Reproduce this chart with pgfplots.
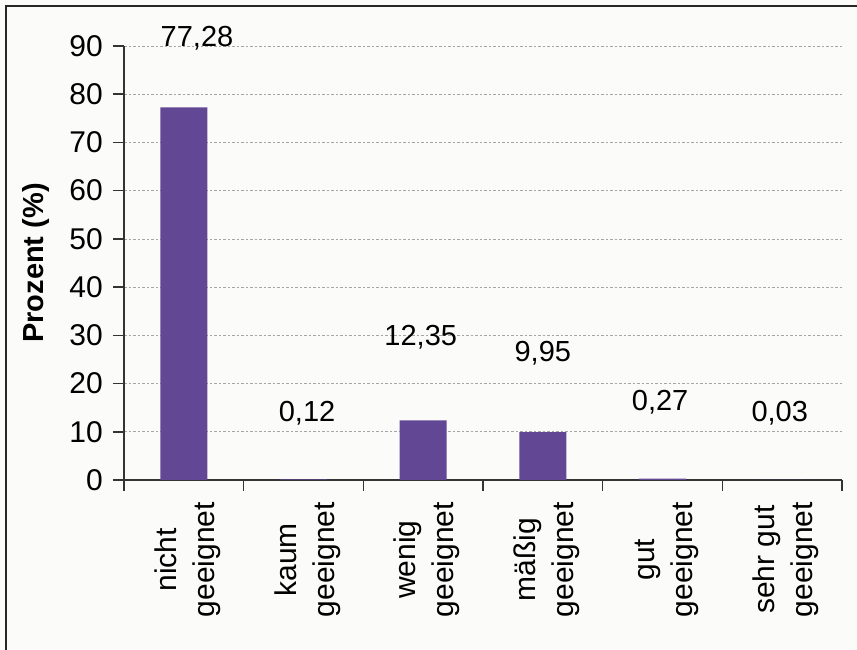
\documentclass[border=0pt]{standalone}
\usepackage{fontspec}
\setmainfont{Liberation Sans}
\usepackage{pgfplots}
\usepackage{pgfplotstable}
\pgfplotsset{compat=1.18}

\definecolor{barpurple}{RGB}{98,72,148}
\definecolor{paper}{RGB}{251,252,249}
\definecolor{gridgray}{RGB}{165,165,165}

% category index, share in percent, position of the value label
\pgfplotstableread{
x  value  lx    ly
0  77.28  0.11  91.7
1  0.12   1.03  13.9
2  12.35  1.98  29.7
3  9.95   3.00  26.3
4  0.27   3.98  16.2
5  0.03   4.98  13.9
}\eignung

\begin{document}
\begin{tikzpicture}[x=1pt,y=1pt]
\fill[paper] (0,0) rectangle (857,650);
\draw[line width=2pt, black!85] (6,0) -- (6,644) -- (857,644);
\begin{axis}[
  at={(124pt,170pt)}, anchor=south west,
  scale only axis,
  width=718pt, height=434pt,
  xmin=-0.5, xmax=5.5,
  ymin=0, ymax=90,
  axis lines*=left,
  axis line style={line width=1.5pt, black!80, -},
  clip=false,
  tick align=outside,
  major tick length=11pt,
  tick style={line width=1.5pt, black!80},
  tick label style={font=\fontsize{30}{32}\selectfont},
  xtick={-0.5,0.5,...,5.5},
  xticklabels={},
  extra x ticks={0,1,2,3,4,5},
  extra x tick labels={{nicht\\geeignet},{kaum\\geeignet},{wenig\\geeignet},{mäßig\\geeignet},{gut\\geeignet},{sehr gut\\geeignet}},
  extra x tick style={major tick length=0pt,
    tick label style={rotate=90, anchor=east, align=center,
      font=\fontsize{30}{38}\selectfont, inner sep=0pt, xshift=-22pt, yshift=-4pt}},
  ytick={0,10,...,90},
  yticklabel style={inner sep=2pt, xshift=-8pt},
  /pgf/number format/assume math mode=true,
  ymajorgrids,
  major grid style={gridgray, line width=0.7pt, dash pattern=on 2.5pt off 2pt},
  ylabel={\textbf{Prozent (\%)}},
  ylabel style={at={(axis description cs:-0.123,0.5)}, anchor=center,
    font=\fontsize{29}{30}\selectfont},
]
\addplot[ybar, bar width=47pt, fill=barpurple, draw=none] table[x=x, y=value] {\eignung};
\addplot[draw=none, mark=none, forget plot,
  nodes near coords, point meta=\thisrow{value},
  nodes near coords style={anchor=center, font=\fontsize{29}{30}\selectfont},
  nodes near coords={\pgfmathprintnumber[fixed, precision=2, zerofill, use comma]{\pgfplotspointmeta}}]
  table[x=lx, y=ly] {\eignung};
\end{axis}
\pgfresetboundingbox
\useasboundingbox (0,0) rectangle (857,650);
\end{tikzpicture}
\end{document}
